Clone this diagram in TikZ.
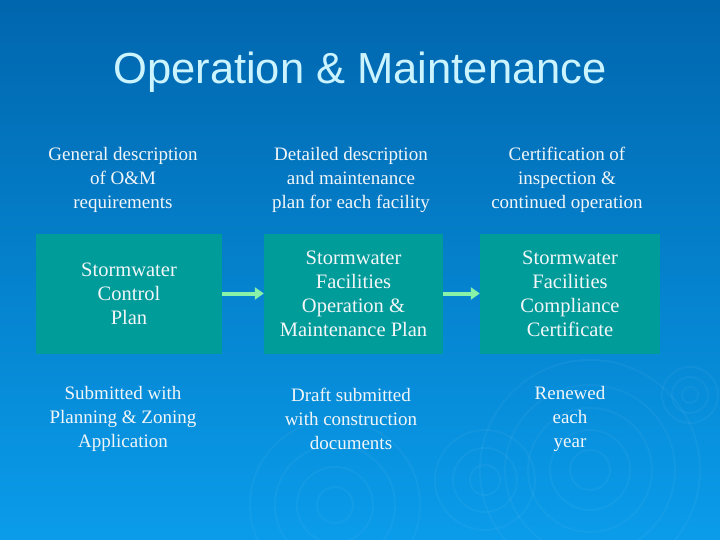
\documentclass[tikz,border=0pt]{standalone}
\usepackage{fontspec}
\setmainfont{Liberation Serif}
\newfontfamily\titlefont{Liberation Sans}
\usetikzlibrary{arrows.meta}
\definecolor{bgtop}{HTML}{0066AE}
\definecolor{bgbot}{HTML}{0A9CEA}
\definecolor{boxteal}{HTML}{009C9A}
\definecolor{arrowgreen}{HTML}{88F2A8}
\definecolor{titlecol}{HTML}{CCF4FF}
\definecolor{txt}{HTML}{F2F6F8}
\tikzset{
  lbl/.style={text=txt, align=center, font=\fontsize{19}{24}\selectfont, inner sep=0pt},
  tealbox/.style={fill=boxteal, draw=none, minimum height=120pt, inner sep=0pt, text=txt, align=center, font=\fontsize{20.5}{24}\selectfont},
  flow/.style={draw=arrowgreen, line width=4pt, -{Triangle[length=9pt,width=12pt]}},
  ripple/.style={draw=white, opacity=0.04, line width=2pt},
}
\begin{document}
\begin{tikzpicture}[x=1pt,y=-1pt]
\useasboundingbox (0,0) rectangle (720,540);
\shade[top color=bgtop, bottom color=bgbot] (0,0) rectangle (720,540);
% background ripples
\foreach \r in {20,40,62,85,110}{\draw[ripple] (590,470) circle (\r);}
\foreach \r in {15,32,50}{\draw[ripple] (485,480) circle (\r);}
\foreach \r in {18,38,60,85}{\draw[ripple] (335,505) circle (\r);}
\foreach \r in {8,18,28}{\draw[ripple] (690,395) circle (\r);}
% title
\node[text=titlecol, font=\titlefont\fontsize{43.5}{50}\selectfont, inner sep=0pt] (title) at (360,72) {Operation \& Maintenance};
% top descriptions
\node[lbl] (t1) at (123,180) {General description\\of O\&M\\requirements};
\node[lbl] (t2) at (351,180) {Detailed description\\and maintenance\\plan for each facility};
\node[lbl] (t3) at (567,180) {Certification of\\inspection \&\\continued operation};
% boxes
\node[tealbox, minimum width=186pt] (b1) at (129,293.5) {Stormwater\\Control\\Plan};
\node[tealbox, minimum width=179pt] (b2) at (353.5,293.5) {Stormwater\\Facilities\\Operation \&\\Maintenance Plan};
\node[tealbox, minimum width=180pt] (b3) at (570,293.5) {Stormwater\\Facilities\\Compliance\\Certificate};
% arrows
\draw[flow] (b1.east) -- (b2.west);
\draw[flow] (b2.east) -- (b3.west);
% bottom notes
\node[lbl] (n1) at (123,419) {Submitted with\\Planning \& Zoning\\Application};
\node[lbl] (n2) at (351,419) {Draft submitted\\with construction\\documents};
\node[lbl] (n3) at (570,419) {Renewed\\each\\year};
\end{tikzpicture}
\end{document}
